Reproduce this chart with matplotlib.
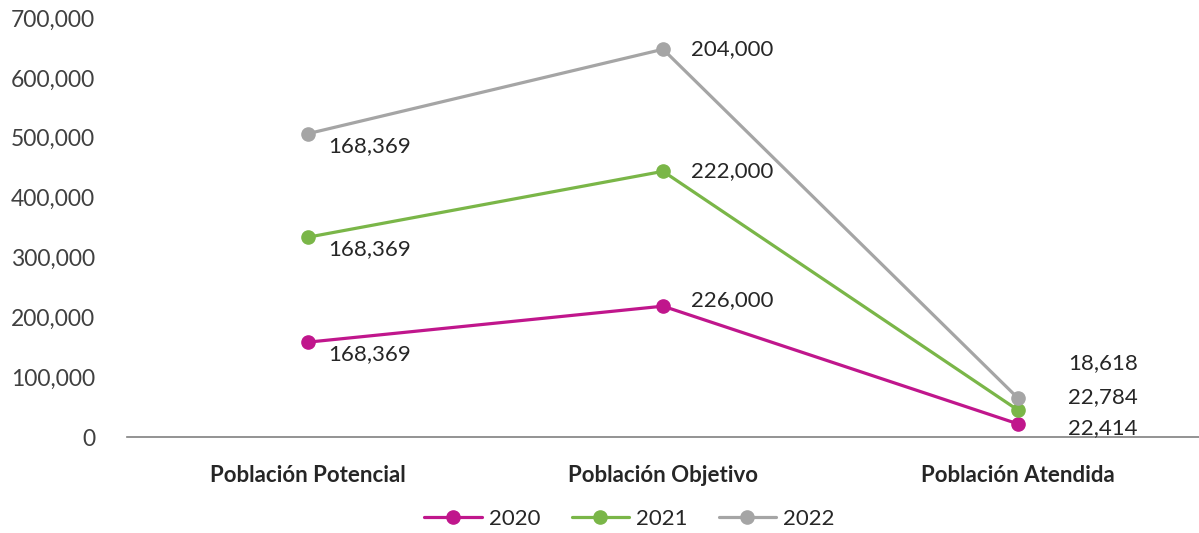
import matplotlib
matplotlib.use("Agg")
import matplotlib.pyplot as plt

categories = ["Población Potencial", "Población Objetivo", "Población Atendida"]
years = ["2020", "2021", "2022"]
# plotted (cumulative) positions
pos_2020 = [158600, 218700, 22000]
pos_2021 = [334000, 444000, 45000]
pos_2022 = [507000, 648000, 65000]
# data labels as shown
lab_2020 = ["168,369", "226,000", "22,414"]
lab_2021 = ["168,369", "222,000", "22,784"]
lab_2022 = ["168,369", "204,000", "18,618"]
yticks = [0, 100000, 200000, 300000, 400000, 500000, 600000, 700000]

colors = ["#C0168C", "#7AB648", "#A5A5A5"]
series = [pos_2020, pos_2021, pos_2022]
labels = [lab_2020, lab_2021, lab_2022]

plt.rcParams['font.family'] = ['Lato', 'DejaVu Sans']
fig = plt.figure(figsize=(11.99, 5.33), dpi=100)
ax = fig.add_axes([0.106, 0.180, 0.894, 0.786])
x = list(range(len(categories)))
for yr, vals, c in zip(years, series, colors):
    ax.plot(x, vals, color=c, lw=2.3, marker='o', ms=9.5, label=yr,
            solid_capstyle='round')

# label offsets in pixels (per category, per series)
pt = 0.72
offs = {
    0: [(20, -12), (20, -12), (20, -12)],
    1: [(28, 6), (28, 0), (28, 0)],
    2: [(50, -4), (50, 13), (50, 35)],
}
for si, (vals, labs) in enumerate(zip(series, labels)):
    for ci in range(3):
        dx, dy = offs[ci][si]
        ax.annotate(labs[ci], (x[ci], vals[ci]), xytext=(dx * pt, dy * pt),
                    textcoords='offset points', ha='left', va='center',
                    fontsize=16, color='#262626')

ax.set_xlim(-0.51, 2.51)
ax.set_ylim(0, 700000)
ax.set_yticks(yticks)
ax.set_yticklabels([f"{v:,}" for v in yticks], fontsize=16.5, color='#404040')
ax.set_xticks(x)
ax.set_xticklabels(categories, fontsize=16, fontweight='bold', color='#262626')
ax.tick_params(axis='y', length=0, pad=23)
ax.tick_params(axis='x', length=0, pad=20)
for s in ['top', 'right', 'left']:
    ax.spines[s].set_visible(False)
ax.spines['bottom'].set_color('#808080')
ax.spines['bottom'].set_linewidth(1.2)

leg = fig.legend(loc='center', bbox_to_anchor=(0.525, 0.027), ncol=3, frameon=False,
                 fontsize=16, handlelength=2.6, columnspacing=1.4, handletextpad=0.3)
for t in leg.get_texts():
    t.set_color('#262626')
fig.savefig("out.png", dpi=100)
